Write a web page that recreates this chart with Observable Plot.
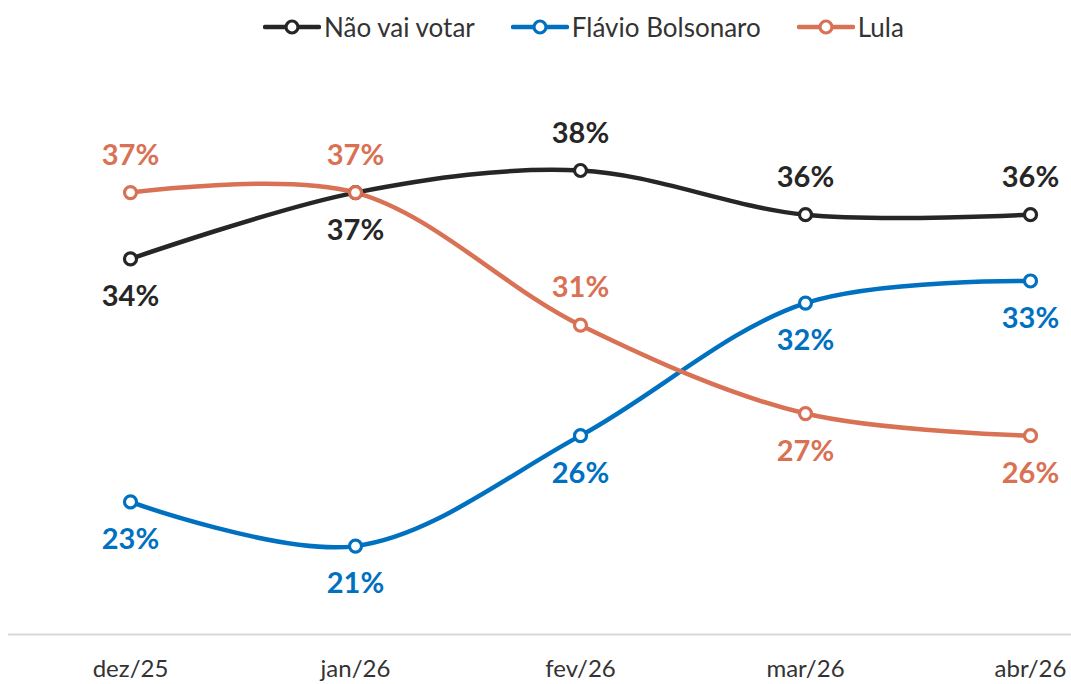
<!DOCTYPE html>
<html>
<head>
<meta charset="utf-8">
<script src="https://cdn.jsdelivr.net/npm/d3@7"></script>
<script src="https://cdn.jsdelivr.net/npm/@observablehq/plot@0.6"></script>
<style>
  body { margin: 0; background: #fff; font-family: Lato, "Noto Sans", sans-serif; }
  #legend { height: 50px; display: flex; justify-content: center; align-items: center; gap: 36px; font-size: 26px; color: #333; padding-left: 96px; box-sizing: border-box; width: 1071px; padding-top: 4px; }
  .item { display: flex; align-items: center; gap: 3px; }
</style>
</head>
<body>
<div id="legend"></div>
<div id="chart"></div>
<script>
const months = ["dez/25", "jan/26", "fev/26", "mar/26", "abr/26"];
const seriesNames = ["Não vai votar", "Flávio Bolsonaro", "Lula"];
const seriesColors = ["#262626", "#0070C0", "#D97154"];
const naoVaiVotar = [34, 37, 38, 36, 36];
const flavio = [23, 21, 26, 32, 33];
const lula = [37, 37, 31, 27, 26];
const naoVaiVotarLabelPos = ["below", "below", "above", "above", "above"];
const flavioLabelPos = ["below", "below", "below", "below", "below"];
const lulaLabelPos = ["above", "above", "above", "below", "below"];

const valuesBySeries = [naoVaiVotar, flavio, lula];
const posBySeries = [naoVaiVotarLabelPos, flavioLabelPos, lulaLabelPos];
const rows = [];
seriesNames.forEach((s, i) => {
  months.forEach((m, j) => rows.push({series: s, month: m, value: valuesBySeries[i][j], pos: posBySeries[i][j]}));
});

// Legend
const legend = document.getElementById("legend");
seriesNames.forEach((s, i) => {
  const c = seriesColors[i];
  const div = document.createElement("div");
  div.className = "item";
  div.innerHTML = `<svg width="58" height="18"><line x1="2" y1="9" x2="56" y2="9" stroke="${c}" stroke-width="4.5" stroke-linecap="round"/><circle cx="29" cy="9" r="6" fill="#fff" stroke="${c}" stroke-width="3.2"/></svg><span>${s}</span>`;
  legend.appendChild(div);
});

const color = {domain: seriesNames, range: seriesColors};
const chart = Plot.plot({
  width: 1071,
  height: 634,
  marginTop: 120,
  marginBottom: 50,
  marginLeft: 8,
  marginRight: 0,
  style: {fontFamily: "Lato, 'Noto Sans', sans-serif", background: "#fff"},
  x: {type: "point", domain: months, padding: 0, insetLeft: 120, insetRight: 40, label: null},
  y: {domain: [17, 38], axis: null},
  color,
  marks: [
    Plot.ruleY([17], {stroke: "#d9d9d9", strokeWidth: 2}),
    Plot.axisX({tickSize: 0, tickPadding: 25, fontSize: 24, color: "#333", label: null}),
    Plot.line(rows, {x: "month", y: "value", z: "series", stroke: "series", strokeWidth: 4.5, curve: "catmull-rom"}),
    Plot.dot(rows, {x: "month", y: "value", stroke: "series", fill: "#fff", r: 6, strokeWidth: 3.2}),
    Plot.text(rows.filter(d => d.pos === "above"), {x: "month", y: "value", text: d => d.value + "%", fill: "series", dy: -37, fontSize: 29, fontWeight: "bold"}),
    Plot.text(rows.filter(d => d.pos === "below"), {x: "month", y: "value", text: d => d.value + "%", fill: "series", dy: 38, fontSize: 29, fontWeight: "bold"})
  ]
});
document.getElementById("chart").appendChild(chart);
</script>
</body>
</html>
